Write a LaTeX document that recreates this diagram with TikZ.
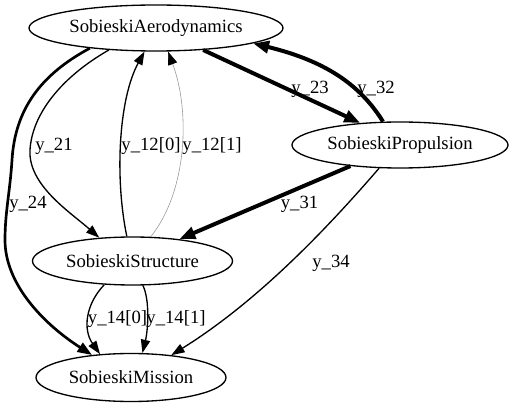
\documentclass[tikz,border=0pt]{standalone}
\usepackage{fontspec}
\setmainfont{Liberation Serif}
\usetikzlibrary{shapes.geometric,arrows.meta}
\begin{document}
\begin{tikzpicture}[x=1pt,y=1pt,
  txt/.style={font=\fontsize{18.67}{22}\selectfont},
  mod/.style={draw, ellipse, line width=1.33pt, inner sep=0pt, txt},
  lab/.style={inner sep=0pt, anchor=base, txt},
  link/.style={line width=1.33pt, -{Triangle[length=13.3pt,width=9.3pt]}},
  mlink/.style={line width=2.67pt, -{Triangle[length=14.5pt,width=10.5pt]}},
  tlink/.style={line width=4pt, -{Triangle[length=16pt,width=12pt]}},
  glink/.style={line width=0.6pt, draw=black!40, -{Triangle[length=13.3pt,width=9.3pt,color=black]}}
]
\useasboundingbox (0,0) rectangle (514,407);
% nodes
\node[mod, minimum width=254pt, minimum height=46pt] (aero) at (156,379) {SobieskiAerodynamics};
\node[mod, minimum width=216pt, minimum height=46pt] (prop) at (400,262) {SobieskiPropulsion};
\node[mod, minimum width=200pt, minimum height=48pt] (struct) at (132.5,146) {SobieskiStructure};
\node[mod, minimum width=190pt, minimum height=48pt] (mission) at (131,29.5) {SobieskiMission};
% edges
\draw[link] (aero.205) .. controls (60,329) and (32,292) .. (30,257)
  .. controls (28,222) and (70,195) .. (struct.145);
\draw[mlink] (aero.197.6) .. controls (40,332) and (15,297) .. (12,247)
  .. controls (10,215) and (5,195) .. (5,167)
  .. controls (5,122) and (45,82) .. (mission.150);
\draw[link] (struct.103) .. controls (115,227) and (118,307) .. (aero.244.4);
\draw[glink] (struct.53.4) .. controls (188,217) and (190,297) .. (aero.297.7);
\draw[tlink] (aero.335.1) -- (prop.151.9);
\draw[tlink] (prop.126.8) .. controls (362,319) and (330,345) .. (aero.351.1);
\draw[tlink] (prop.203.2) -- (struct.25.2);
\draw[link] (prop.228.5) .. controls (330,182) and (260,107) .. (mission.29.3);
\draw[link] (struct.220) .. controls (85,102) and (83,77) .. (mission.143.8);
\draw[link] (struct.293.7) .. controls (150,107) and (148,77) .. (mission.65.2);
% labels
\node[lab] (l21) at (54,256) {y\_21};
\node[lab] (l24) at (28,198) {y\_24};
\node[lab] (l120) at (151,256) {y\_12[0]};
\node[lab] (l121) at (212,256) {y\_12[1]};
\node[lab] (l23) at (310,313) {y\_23};
\node[lab] (l32) at (376,313) {y\_32};
\node[lab] (l31) at (299.5,198) {y\_31};
\node[lab] (l34) at (331,139) {y\_34};
\node[lab] (l140) at (117.5,83) {y\_14[0]};
\node[lab] (l141) at (176,83) {y\_14[1]};
\end{tikzpicture}
\end{document}
